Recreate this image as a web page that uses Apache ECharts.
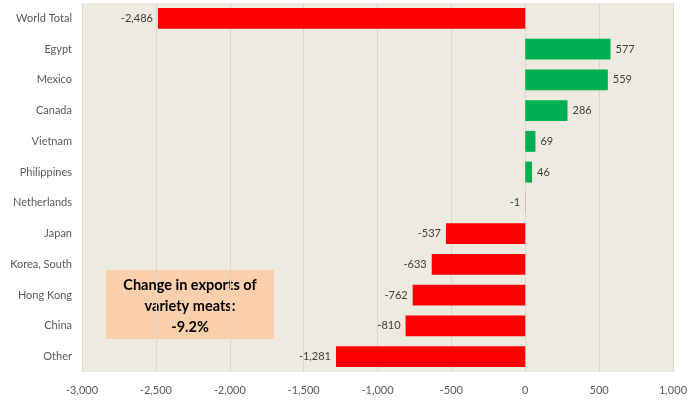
<!DOCTYPE html>
<html><head><meta charset="utf-8">
<script src="https://cdn.jsdelivr.net/npm/echarts@6/dist/echarts.min.js"></script>
<style>html,body{margin:0;padding:0;background:#fff}#c{width:699px;height:402px}</style>
</head><body><div id="c"></div>
<script>
const categories = ["World Total","Egypt","Mexico","Canada","Vietnam","Philippines","Netherlands","Japan","Korea, South","Hong Kong","China","Other"];
const values = [-2486, 577, 559, 286, 69, 46, -1, -537, -633, -762, -810, -1281];
const xTicks = [-3000, -2500, -2000, -1500, -1000, -500, 0, 500, 1000];
const boxLines = ["Change in exports of", "variety meats:", "-9.2%"];

const fmt = v => (v < 0 ? "-" : "") + Math.abs(v).toLocaleString("en-US");
const FONT = "Lato";
const chart = echarts.init(document.getElementById("c"));
chart.setOption({
  backgroundColor: "#ffffff",
  animation: false,
  grid: { left: 82, right: 26, top: 3, bottom: 30, show: true, backgroundColor: "#EDEAE0", borderWidth: 0 },
  xAxis: {
    type: "value", min: xTicks[0], max: xTicks[xTicks.length - 1], interval: 500,
    axisLine: { show: false }, axisTick: { show: false },
    splitLine: { show: true, lineStyle: { color: "#D9D6CF", width: 1 } },
    axisLabel: { color: "#595959", fontFamily: FONT, fontSize: 11, margin: 13, formatter: fmt }
  },
  yAxis: {
    type: "category", data: categories, inverse: true,
    axisLine: { show: false }, axisTick: { show: false },
    axisLabel: { color: "#595959", fontFamily: FONT, fontSize: 11, margin: 10 }
  },
  series: [{
    type: "bar", barWidth: "68%",
    data: values.map(v => ({
      value: v,
      itemStyle: { color: v < 0 ? "#FF0000" : "#00B050" },
      label: { show: true, position: v < 0 ? "left" : "right", distance: 5, formatter: fmt(v),
               color: "#404040", fontFamily: FONT, fontSize: 11 }
    }))
  }],
  graphic: [{
    type: "group", left: 106, top: 270,
    children: [
      { type: "rect", shape: { x: 0, y: 0, width: 168, height: 69 }, style: { fill: "#F9CFAC" } },
      { type: "text", x: 84, y: 36, style: { text: boxLines.join("\n"), align: "center", verticalAlign: "middle",
        fontFamily: FONT, fontWeight: "bold", fontSize: 14.5, lineHeight: 21, fill: "#000" } }
    ]
  }]
});
</script></body></html>
